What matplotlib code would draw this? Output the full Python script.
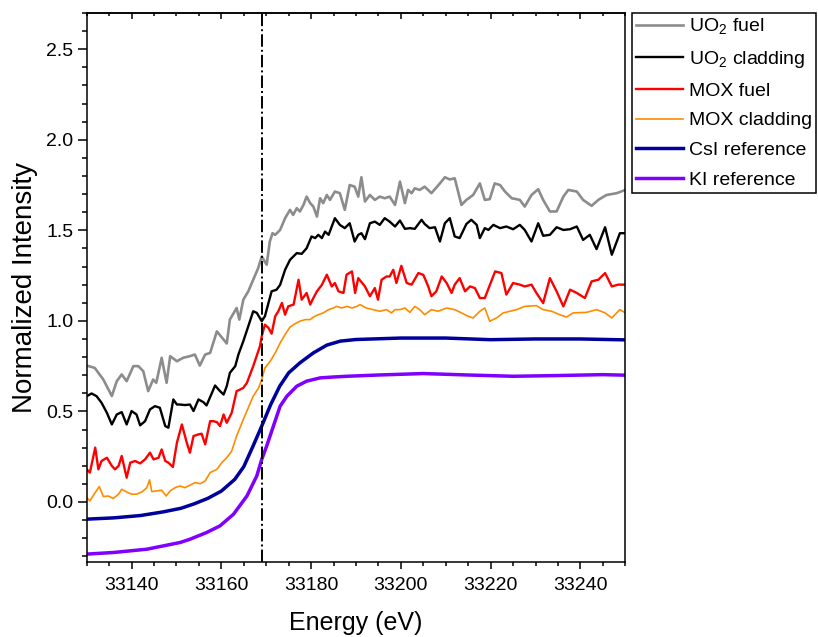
import numpy as np
import matplotlib
matplotlib.use("Agg")
import matplotlib.pyplot as plt
from matplotlib.ticker import MultipleLocator

plt.rcParams['font.family'] = ['Liberation Sans', 'DejaVu Sans']
plt.rcParams['mathtext.fontset'] = 'custom'
plt.rcParams['mathtext.rm'] = 'Liberation Sans'

# edge position marker (eV)
edge_e0 = 33169.0

# UO2 fuel
uo2_fuel_x = [33130.0, 33131.8, 33133.7, 33135.6, 33136.7, 33137.8, 33138.9, 33140.4, 33141.5, 33142.6,
              33143.7, 33144.8, 33145.5, 33146.7, 33147.8, 33148.6, 33150.1, 33151.5, 33153.0, 33154.1,
              33155.2, 33156.4, 33157.5, 33159.0, 33161.2, 33161.9, 33163.4, 33164.0, 33164.9, 33166.0,
              33167.1, 33168.2, 33169.0, 33170.1, 33170.8, 33171.4, 33172.0, 33173.1, 33174.2, 33175.3,
              33176.0, 33176.8, 33177.5, 33178.3, 33179.0, 33179.8, 33180.5, 33181.3, 33182.0, 33182.7,
              33183.5, 33184.2, 33185.3, 33186.4, 33187.5, 33188.6, 33189.7, 33190.5, 33191.2, 33192.0,
              33193.1, 33194.2, 33195.3, 33196.4, 33197.5, 33198.7, 33199.8, 33200.9, 33201.6, 33202.4,
              33203.1, 33204.2, 33205.3, 33206.8, 33208.7, 33209.8, 33210.9, 33212.0, 33213.5, 33214.6,
              33216.1, 33217.6, 33218.7, 33219.8, 33220.9, 33222.1, 33223.2, 33224.7, 33226.5, 33227.6,
              33229.1, 33230.6, 33231.7, 33233.2, 33234.7, 33236.2, 33237.3, 33239.2, 33240.6, 33242.5,
              33244.0, 33245.8, 33248.1, 33250.0]
uo2_fuel_y = [0.753, 0.740, 0.676, 0.585, 0.667, 0.704, 0.667, 0.750, 0.750, 0.722,
              0.612, 0.676, 0.658, 0.796, 0.658, 0.805, 0.777, 0.796, 0.805, 0.814,
              0.753, 0.814, 0.823, 0.942, 0.875, 1.007, 1.071, 1.007, 1.117, 1.163,
              1.227, 1.291, 1.355, 1.310, 1.438, 1.484, 1.475, 1.502, 1.567, 1.613,
              1.585, 1.622, 1.604, 1.640, 1.686, 1.650, 1.631, 1.576, 1.677, 1.650,
              1.695, 1.668, 1.714, 1.705, 1.613, 1.750, 1.741, 1.686, 1.793, 1.659,
              1.695, 1.668, 1.686, 1.677, 1.686, 1.640, 1.769, 1.650, 1.723, 1.705,
              1.732, 1.723, 1.741, 1.705, 1.759, 1.793, 1.781, 1.787, 1.640, 1.668,
              1.695, 1.759, 1.668, 1.672, 1.759, 1.750, 1.714, 1.677, 1.668, 1.631,
              1.695, 1.727, 1.668, 1.604, 1.604, 1.686, 1.723, 1.714, 1.668, 1.635,
              1.668, 1.695, 1.705, 1.723]

# UO2 cladding
uo2_clad_x = [33130.0, 33131.1, 33132.2, 33133.3, 33134.5, 33135.6, 33136.7, 33137.8, 33138.9, 33140.0,
              33141.1, 33141.9, 33143.0, 33144.1, 33145.2, 33146.3, 33147.5, 33148.2, 33149.3, 33150.1,
              33150.8, 33151.9, 33153.0, 33153.8, 33154.9, 33156.0, 33156.7, 33157.9, 33158.6, 33159.7,
              33160.5, 33161.2, 33161.9, 33163.1, 33163.8, 33164.9, 33166.0, 33167.1, 33167.9, 33169.0,
              33169.7, 33170.5, 33171.2, 33172.3, 33173.1, 33174.2, 33175.3, 33176.8, 33177.9, 33179.0,
              33180.1, 33180.9, 33181.6, 33182.4, 33183.1, 33183.9, 33184.6, 33185.3, 33186.4, 33187.5,
              33188.6, 33189.7, 33190.5, 33191.2, 33192.0, 33193.1, 33194.2, 33195.3, 33196.4, 33197.5,
              33198.7, 33199.8, 33200.9, 33202.0, 33203.1, 33204.6, 33205.3, 33206.4, 33207.6, 33208.7,
              33209.8, 33210.9, 33212.0, 33213.1, 33214.6, 33215.7, 33216.9, 33217.6, 33218.7, 33219.5,
              33220.6, 33222.1, 33223.5, 33225.0, 33226.5, 33227.6, 33229.1, 33230.6, 33231.7, 33233.2,
              33234.7, 33236.2, 33237.7, 33239.2, 33240.6, 33242.1, 33243.6, 33245.5, 33247.0, 33248.8,
              33250.0]
uo2_clad_y = [0.584, 0.599, 0.584, 0.548, 0.492, 0.428, 0.483, 0.496, 0.428, 0.502,
              0.483, 0.423, 0.446, 0.511, 0.529, 0.520, 0.419, 0.410, 0.566, 0.538,
              0.538, 0.535, 0.538, 0.502, 0.566, 0.551, 0.533, 0.602, 0.643, 0.612,
              0.593, 0.639, 0.713, 0.750, 0.814, 0.888, 0.970, 1.053, 1.044, 0.998,
              1.025, 1.099, 1.163, 1.172, 1.199, 1.282, 1.337, 1.374, 1.370, 1.401,
              1.466, 1.457, 1.475, 1.457, 1.493, 1.475, 1.521, 1.567, 1.530, 1.512,
              1.539, 1.438, 1.475, 1.484, 1.451, 1.539, 1.548, 1.530, 1.567, 1.548,
              1.521, 1.554, 1.508, 1.512, 1.508, 1.558, 1.535, 1.512, 1.517, 1.438,
              1.539, 1.567, 1.466, 1.457, 1.535, 1.558, 1.530, 1.457, 1.512, 1.502,
              1.530, 1.512, 1.521, 1.506, 1.530, 1.502, 1.438, 1.539, 1.470, 1.475,
              1.517, 1.502, 1.506, 1.521, 1.447, 1.475, 1.396, 1.517, 1.365, 1.484,
              1.484]

# MOX fuel
mox_fuel_x = [33130.0, 33130.7, 33131.9, 33132.6, 33133.3, 33134.5, 33135.6, 33136.3, 33137.1, 33137.8,
              33138.9, 33139.7, 33140.8, 33141.9, 33143.0, 33144.1, 33144.9, 33146.0, 33146.7, 33147.5,
              33148.2, 33149.2, 33150.1, 33151.2, 33152.3, 33153.0, 33153.8, 33154.9, 33155.6, 33156.4,
              33157.5, 33158.2, 33159.0, 33159.7, 33160.5, 33161.2, 33162.3, 33163.4, 33164.2, 33164.9,
              33165.7, 33167.1, 33168.6, 33169.0, 33169.7, 33170.5, 33171.2, 33172.0, 33172.7, 33173.5,
              33174.2, 33174.9, 33176.1, 33177.2, 33177.9, 33179.0, 33179.8, 33180.5, 33181.3, 33182.4,
              33183.5, 33184.6, 33185.3, 33186.1, 33187.2, 33187.9, 33189.1, 33189.8, 33190.5, 33192.0,
              33193.1, 33194.2, 33194.9, 33195.7, 33196.8, 33197.5, 33198.3, 33199.0, 33200.1, 33201.3,
              33202.4, 33203.9, 33205.0, 33206.1, 33206.8, 33207.9, 33209.1, 33210.2, 33211.3, 33212.0,
              33213.1, 33214.3, 33215.4, 33216.5, 33217.6, 33218.7, 33221.0, 33222.4, 33223.5, 33225.0,
              33226.5, 33227.6, 33229.1, 33230.2, 33231.7, 33233.2, 33234.7, 33236.2, 33237.7, 33239.2,
              33241.0, 33242.5, 33244.0, 33245.5, 33247.0, 33248.4, 33250.0]
mox_fuel_y = [0.180, 0.162, 0.300, 0.180, 0.226, 0.244, 0.199, 0.180, 0.199, 0.254,
              0.134, 0.217, 0.226, 0.213, 0.235, 0.272, 0.235, 0.244, 0.290, 0.226,
              0.217, 0.193, 0.327, 0.428, 0.327, 0.272, 0.364, 0.373, 0.377, 0.318,
              0.446, 0.446, 0.441, 0.419, 0.483, 0.437, 0.492, 0.612, 0.621, 0.630,
              0.658, 0.750, 0.860, 0.915, 0.979, 0.961, 0.929, 1.025, 1.053, 1.099,
              1.034, 1.080, 1.090, 1.227, 1.117, 1.154, 1.090, 1.126, 1.163, 1.199,
              1.255, 1.190, 1.209, 1.163, 1.154, 1.255, 1.273, 1.154, 1.236, 1.190,
              1.136, 1.181, 1.117, 1.227, 1.245, 1.245, 1.282, 1.209, 1.304, 1.209,
              1.200, 1.264, 1.254, 1.190, 1.136, 1.163, 1.245, 1.209, 1.154, 1.200,
              1.236, 1.163, 1.190, 1.181, 1.126, 1.126, 1.273, 1.264, 1.145, 1.209,
              1.200, 1.190, 1.200, 1.154, 1.098, 1.236, 1.163, 1.080, 1.172, 1.154,
              1.126, 1.218, 1.227, 1.264, 1.190, 1.200, 1.200]

# MOX cladding
mox_clad_x = [33130.0, 33130.7, 33131.9, 33132.8, 33133.7, 33134.8, 33135.9, 33137.1, 33137.8, 33138.9,
              33140.0, 33141.1, 33142.3, 33143.4, 33144.0, 33144.5, 33145.6, 33146.7, 33147.7, 33148.6,
              33149.7, 33150.8, 33151.9, 33153.0, 33154.1, 33155.3, 33156.4, 33157.5, 33159.0, 33160.1,
              33161.2, 33162.3, 33163.4, 33164.9, 33166.0, 33167.1, 33168.3, 33169.0, 33169.7, 33170.9,
              33172.0, 33173.1, 33174.2, 33175.3, 33176.4, 33177.5, 33178.7, 33179.8, 33180.5, 33181.6,
              33182.7, 33183.9, 33185.0, 33185.7, 33186.8, 33188.0, 33189.1, 33190.2, 33190.9, 33192.3,
              33193.8, 33195.3, 33196.8, 33197.9, 33198.7, 33199.8, 33200.9, 33202.0, 33203.1, 33204.2,
              33205.3, 33206.8, 33208.3, 33210.2, 33212.0, 33213.5, 33215.0, 33216.1, 33217.6, 33218.7,
              33219.8, 33221.3, 33222.8, 33224.3, 33225.8, 33227.6, 33230.2, 33231.7, 33233.6, 33235.4,
              33236.9, 33238.4, 33241.4, 33243.6, 33245.5, 33247.0, 33248.8, 33250.0]
mox_clad_y = [0.024, 0.006, 0.052, 0.085, 0.030, 0.033, 0.019, 0.043, 0.070, 0.055,
              0.043, 0.043, 0.055, 0.079, 0.122, 0.057, 0.061, 0.065, 0.033, 0.061,
              0.079, 0.088, 0.079, 0.092, 0.107, 0.101, 0.116, 0.162, 0.180, 0.217,
              0.244, 0.281, 0.364, 0.456, 0.520, 0.584, 0.630, 0.676, 0.740, 0.777,
              0.823, 0.878, 0.924, 0.966, 0.984, 0.998, 1.007, 1.007, 1.021, 1.034,
              1.044, 1.062, 1.071, 1.080, 1.071, 1.080, 1.071, 1.080, 1.090, 1.071,
              1.062, 1.053, 1.062, 1.044, 1.062, 1.062, 1.071, 1.047, 1.080, 1.062,
              1.034, 1.062, 1.053, 1.071, 1.062, 1.044, 1.025, 1.016, 1.053, 1.071,
              0.998, 1.016, 1.044, 1.053, 1.062, 1.080, 1.084, 1.062, 1.053, 1.034,
              1.021, 1.044, 1.047, 1.062, 1.044, 1.016, 1.062, 1.044]

# CsI reference
csi_x = [33130.0, 33136.0, 33142.0, 33147.0, 33151.0, 33154.0, 33157.0, 33160.0, 33163.0, 33165.0,
         33167.0, 33169.0, 33171.0, 33173.0, 33175.0, 33177.5, 33180.5, 33183.5, 33186.5, 33190.0,
         33200.0, 33210.0, 33220.0, 33230.0, 33240.0, 33250.0]
csi_y = [-0.095, -0.088, -0.075, -0.055, -0.035, -0.010, 0.020, 0.060, 0.125, 0.195,
         0.305, 0.419, 0.538, 0.639, 0.713, 0.768, 0.823, 0.866, 0.888, 0.897,
         0.905, 0.905, 0.896, 0.900, 0.900, 0.895]

# KI reference
ki_x = [33130.0, 33136.0, 33143.4, 33150.8, 33153.0, 33156.7, 33159.7, 33162.7, 33165.7, 33167.9,
        33169.0, 33170.1, 33171.6, 33173.1, 33174.6, 33176.8, 33179.0, 33182.0, 33185.0, 33188.0,
        33195.0, 33205.0, 33215.0, 33225.0, 33235.0, 33245.0, 33250.0]
ki_y = [-0.288, -0.279, -0.261, -0.224, -0.206, -0.169, -0.132, -0.068, 0.033, 0.144,
        0.235, 0.309, 0.419, 0.529, 0.584, 0.639, 0.667, 0.685, 0.690, 0.694,
        0.701, 0.709, 0.701, 0.694, 0.698, 0.703, 0.700]

fig = plt.figure(figsize=(8.18, 6.37), dpi=100)
ax = fig.add_axes([0.106, 0.1182, 0.6584, 0.8614])

ax.plot(uo2_fuel_x, uo2_fuel_y, color='#8c8c8c', lw=1.9, label=r'UO$_\mathregular{2}$ fuel')
ax.plot(uo2_clad_x, uo2_clad_y, color='black', lw=1.7, label=r'UO$_\mathregular{2}$ cladding')
ax.plot(mox_fuel_x, mox_fuel_y, color='#ff0000', lw=1.7, label='MOX fuel')
ax.plot(mox_clad_x, mox_clad_y, color='#ff8c00', lw=1.2, label='MOX cladding')
ax.plot(csi_x, csi_y, color='#00009c', lw=2.5, label='CsI reference')
ax.plot(ki_x, ki_y, color='#8000ff', lw=2.5, label='KI reference')

ax.axvline(edge_e0, color='black', lw=1.4, ls='-.')

ax.set_xlim(33130, 33250)
ax.set_ylim(-0.33, 2.7)
ax.xaxis.set_major_locator(MultipleLocator(20))
ax.xaxis.set_minor_locator(MultipleLocator(5))
ax.yaxis.set_major_locator(MultipleLocator(0.5))
ax.yaxis.set_minor_locator(MultipleLocator(0.1))

ax.tick_params(axis='both', which='major', labelsize=14, width=1.1, direction='out')
ax.tick_params(axis='y', which='major', length=6.5, pad=3)
ax.tick_params(axis='y', which='minor', length=3.5, width=1.1)
ax.tick_params(axis='x', which='major', length=5, pad=6)
ax.tick_params(axis='x', which='minor', length=3, width=1.1)

top = ax.secondary_xaxis('top')
top.xaxis.set_major_locator(MultipleLocator(20))
top.xaxis.set_minor_locator(MultipleLocator(5))
top.tick_params(which='major', direction='in', length=4, width=1.1, labeltop=False)
top.tick_params(which='minor', direction='in', length=2.5, width=1.1)
top.spines['top'].set_linewidth(1.1)

for s in ax.spines.values():
    s.set_linewidth(1.1)

ax.set_xlabel('Energy (eV)', fontsize=18, labelpad=12)
ax.set_ylabel('Normalized Intensity', fontsize=20, labelpad=6)

leg = fig.legend(loc='upper left', bbox_to_anchor=(0.7726, 0.980), fontsize=14,
                 handlelength=2.4, handletextpad=0.35, labelspacing=0.62,
                 borderpad=0.2, borderaxespad=0.0, fancybox=False, framealpha=1)
leg.get_frame().set_edgecolor('black')
leg.get_frame().set_linewidth(1.1)

fig.savefig('out.png', dpi=100)
